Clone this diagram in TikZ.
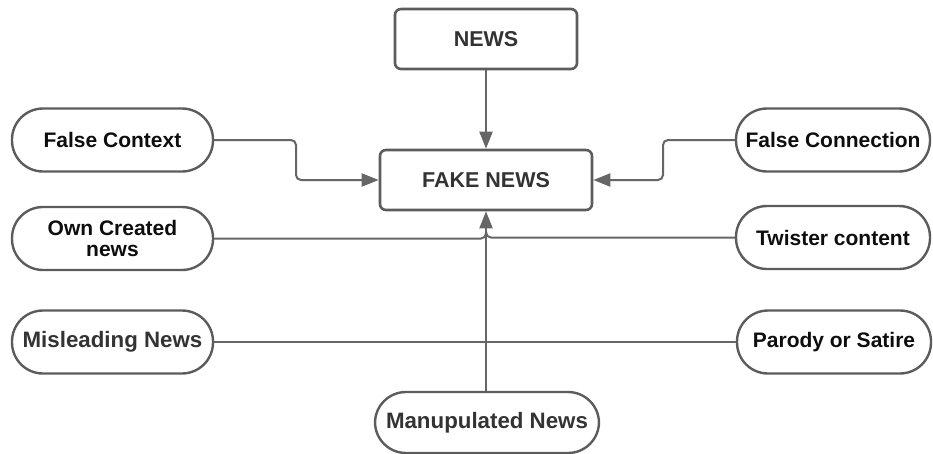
\documentclass[tikz,border=0pt]{standalone}
\usepackage{fontspec}
\setmainfont{Liberation Sans}
\usetikzlibrary{arrows.meta}
\definecolor{linegray}{HTML}{666666}
\definecolor{bordergray}{HTML}{5C5C5C}
\definecolor{boxtext}{HTML}{333333}
\definecolor{pilltext}{HTML}{0D0D0D}
\tikzset{
  box/.style={draw=bordergray, line width=2.6pt, rounded corners=6pt, minimum width=182pt, minimum height=60pt, inner sep=0pt, text=boxtext, font=\fontsize{21.5}{25}\selectfont\bfseries},
  pill/.style={draw=bordergray, line width=2.4pt, rounded corners=31pt, minimum width=201pt, minimum height=63pt, inner sep=0pt, align=center, text=pilltext, font=\fontsize{21}{23}\selectfont\bfseries},
  graypill/.style={pill, text=boxtext, font=\fontsize{22.3}{25}\selectfont\bfseries},
  conn/.style={draw=linegray, line width=2pt, rounded corners=5pt},
  arr/.style={conn, -{Triangle[length=17pt,width=13pt]}}
}
\begin{document}
\begin{tikzpicture}[x=1pt,y=-1pt]
\useasboundingbox (0,0) rectangle (933,453);
\node[box] (news) at (486,39) {NEWS};
\node[box, minimum width=212pt] (fake) at (486,180) {FAKE NEWS};
\node[pill] (fcontext) at (112.5,140) {False Context};
\node[pill] (own) at (112.5,238.5) {Own Created\\[-2pt]news};
\node[graypill, minimum width=201pt] (mislead) at (112.5,342) {Misleading News};
\node[pill, minimum width=194pt] (fconn) at (833,140) {False Connection};
\node[pill, minimum width=194pt] (twist) at (833,237.5) {Twister content};
\node[pill, minimum width=194pt] (parody) at (834,342) {Parody or Satire};
\node[graypill, minimum width=224pt, minimum height=61pt] (manu) at (487,422.5) {Manupulated News};
\coordinate (j) at (486,232);
\draw[arr] (news) -- (fake);
\draw[arr] (fcontext.east) -- (296,140) -- (296,180) -- (fake.west);
\draw[arr] (fconn.west) -- (663,140) -- (663,180) -- (fake.east);
\draw[conn] (own.east) -| (j);
\draw[conn] (twist.west) -| (j);
\draw[conn, rounded corners=0pt] (mislead.east) -- (parody.west);
\draw[arr, rounded corners=0pt] (manu.north -| fake.south) -- (fake.south);
\end{tikzpicture}
\end{document}
